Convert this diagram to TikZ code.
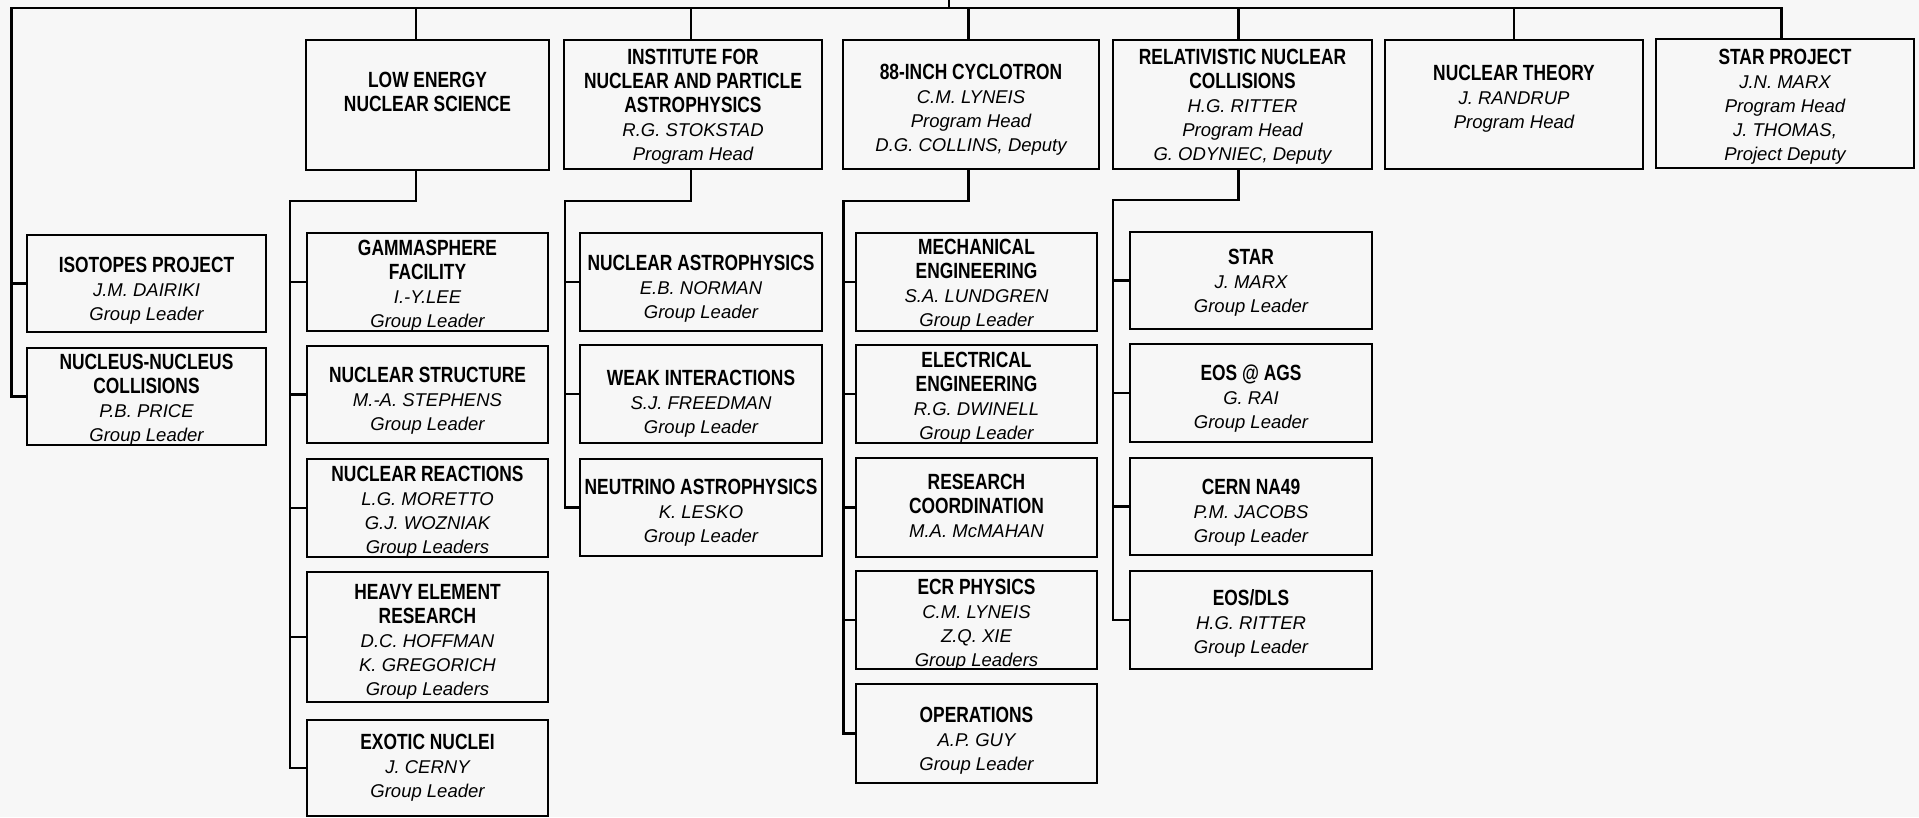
\documentclass[tikz,border=0pt]{standalone}
\usepackage{fontspec}
\setmainfont{Liberation Sans}
\newfontfamily\hbf[FakeStretch=0.79]{Liberation Sans Bold}
\newfontfamily\hit{Liberation Sans Italic}
\definecolor{bg}{RGB}{247,247,247}
\newcommand\hd[1]{{\hbf\fontsize{22}{24}\selectfont #1}}
\newcommand\obox[7]{%
  \node[box, minimum width={(#4-#2)*1pt}, minimum height={(#5-#3)*1pt}] (#1) at ({(#2+#4)/2},{(#3+#5)/2}) {};
  \node[lbl, anchor=north] (#1-t) at ({(#2+#4)/2},{#6-8}) {#7};}
\begin{document}
\begin{tikzpicture}[x=1pt,y=-1pt,
  box/.style={draw, rectangle, inner sep=0pt, outer sep=0pt, line width=2.4pt},
  lbl/.style={align=center, inner sep=0pt, outer sep=0pt, font=\hit\fontsize{18.5}{24}\selectfont},
  conn/.style={draw, line width=2.2pt, line join=miter}]
\useasboundingbox[fill=bg] (0,0) rectangle (1919,817);

% top row
\obox{le}{306}{40}{549}{170}{80}{\hd{LOW ENERGY}\\\hd{NUCLEAR SCIENCE}}
\obox{inpa}{564}{40}{822}{169}{57}{\hd{INSTITUTE FOR}\\\hd{NUCLEAR AND PARTICLE}\\\hd{ASTROPHYSICS}\\R.G. STOKSTAD\\Program Head}
\obox{cyc}{843}{40}{1099}{169}{72}{\hd{88-INCH CYCLOTRON}\\C.M. LYNEIS\\Program Head\\D.G. COLLINS, Deputy}
\obox{rnc}{1113}{40}{1372}{169}{57}{\hd{RELATIVISTIC NUCLEAR}\\\hd{COLLISIONS}\\H.G. RITTER\\Program Head\\G. ODYNIEC, Deputy}
\obox{nt}{1385}{40}{1643}{169}{73}{\hd{NUCLEAR THEORY}\\J. RANDRUP\\Program Head}
\obox{starp}{1656}{39}{1914}{168}{57}{\hd{STAR PROJECT}\\J.N. MARX\\Program Head\\J. THOMAS,\\Project Deputy}

% left column
\obox{iso}{27}{235}{266}{332}{265}{\hd{ISOTOPES PROJECT}\\J.M. DAIRIKI\\Group Leader}
\obox{nn}{27}{348}{266}{445}{362}{\hd{NUCLEUS-NUCLEUS}\\\hd{COLLISIONS}\\P.B. PRICE\\Group Leader}

% low energy children
\obox{gam}{307}{233}{548}{331}{248}{\hd{GAMMASPHERE}\\\hd{FACILITY}\\I.-Y.LEE\\Group Leader}
\obox{nstruct}{307}{346}{548}{443}{375}{\hd{NUCLEAR STRUCTURE}\\M.-A. STEPHENS\\Group Leader}
\obox{nreac}{307}{459}{548}{557}{474}{\hd{NUCLEAR REACTIONS}\\L.G. MORETTO\\G.J. WOZNIAK\\Group Leaders}
\obox{heavy}{307}{572}{548}{702}{592}{\hd{HEAVY ELEMENT}\\\hd{RESEARCH}\\D.C. HOFFMAN\\K. GREGORICH\\Group Leaders}
\obox{exotic}{307}{720}{548}{816}{742}{\hd{EXOTIC NUCLEI}\\J. CERNY\\Group Leader}

% INPA children
\obox{nastro}{580}{233}{822}{331}{263}{\hd{NUCLEAR ASTROPHYSICS}\\E.B. NORMAN\\Group Leader}
\obox{weak}{580}{345}{822}{443}{378}{\hd{WEAK INTERACTIONS}\\S.J. FREEDMAN\\Group Leader}
\obox{neut}{580}{459}{822}{556}{487}{\hd{NEUTRINO ASTROPHYSICS}\\K. LESKO\\Group Leader}

% 88-inch children
\obox{mech}{856}{233}{1097}{331}{247}{\hd{MECHANICAL}\\\hd{ENGINEERING}\\S.A. LUNDGREN\\Group Leader}
\obox{elec}{856}{345}{1097}{443}{360}{\hd{ELECTRICAL}\\\hd{ENGINEERING}\\R.G. DWINELL\\Group Leader}
\obox{resc}{856}{458}{1097}{557}{482}{\hd{RESEARCH}\\\hd{COORDINATION}\\M.A. McMAHAN}
\obox{ecr}{856}{571}{1097}{669}{587}{\hd{ECR PHYSICS}\\C.M. LYNEIS\\Z.Q. XIE\\Group Leaders}
\obox{ops}{856}{684}{1097}{783}{715}{\hd{OPERATIONS}\\A.P. GUY\\Group Leader}

% RNC children
\obox{star}{1130}{232}{1372}{329}{257}{\hd{STAR}\\J. MARX\\Group Leader}
\obox{eos}{1130}{344}{1372}{442}{373}{\hd{EOS @ AGS}\\G. RAI\\Group Leader}
\obox{cern}{1130}{458}{1372}{555}{487}{\hd{CERN NA49}\\P.M. JACOBS\\Group Leader}
\obox{eosdls}{1130}{571}{1372}{669}{598}{\hd{EOS/DLS}\\H.G. RITTER\\Group Leader}

% top connectors
\coordinate (root) at (949,0);
\coordinate (tl) at (11.5,8);
\coordinate (tr) at (1781.5,8);
\path[conn] (root) -- (root |- tl);
\path[conn] (nn.west) -| (tl) -- (tr) -- (tr |- starp.north);
\path[conn] (iso.west -| tl) -- (iso.west);

\coordinate (dle) at (416,8);
\coordinate (dinpa) at (691,8);
\coordinate (dcyc) at (968.5,8);
\coordinate (drnc) at (1238.5,8);
\coordinate (dnt) at (1514,8);
\foreach \d/\b in {dle/le,dinpa/inpa,dcyc/cyc,drnc/rnc,dnt/nt}
  \path[conn] (\d) -- (\d |- \b.north);

% buses
\coordinate (ble) at (290,201);
\coordinate (binpa) at (565,201);
\coordinate (bcyc) at (843.5,201);
\coordinate (brnc) at (1113,200);

\path[conn] (dle |- le.south) -- (dle |- ble) -- (ble) -- (ble |- exotic.west) -- (exotic.west);
\foreach \c in {gam,nstruct,nreac,heavy} \path[conn] (\c.west -| ble) -- (\c.west);

\path[conn] (dinpa |- inpa.south) -- (dinpa |- binpa) -- (binpa) -- (binpa |- neut.west) -- (neut.west);
\foreach \c in {nastro,weak} \path[conn] (\c.west -| binpa) -- (\c.west);

\path[conn] (dcyc |- cyc.south) -- (dcyc |- bcyc) -- (bcyc) -- (bcyc |- ops.west) -- (ops.west);
\foreach \c in {mech,elec,resc,ecr} \path[conn] (\c.west -| bcyc) -- (\c.west);

\path[conn] (drnc |- rnc.south) -- (drnc |- brnc) -- (brnc) -- (brnc |- eosdls.west) -- (eosdls.west);
\foreach \c in {star,eos,cern} \path[conn] (\c.west -| brnc) -- (\c.west);
\end{tikzpicture}
\end{document}
